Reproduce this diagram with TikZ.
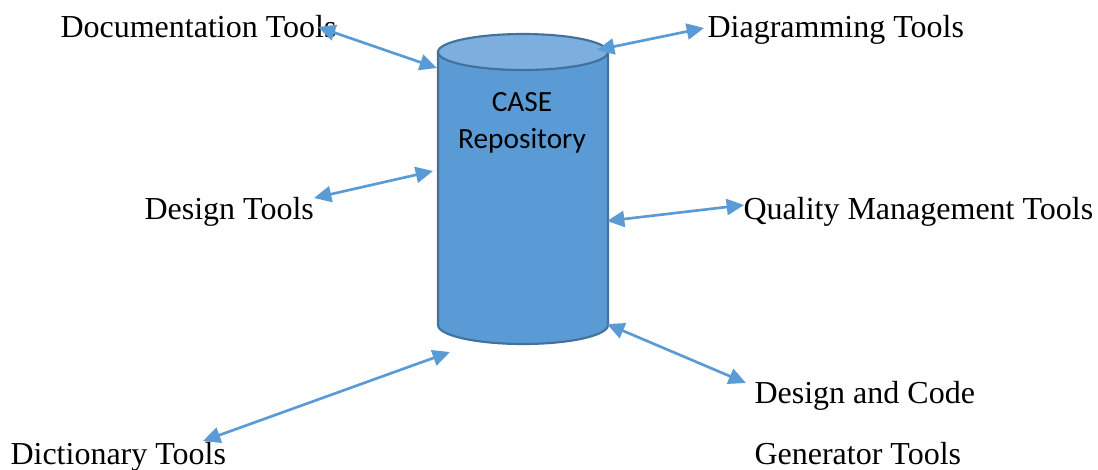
\documentclass[tikz,border=0pt]{standalone}
\usepackage{fontspec}
\setmainfont{Liberation Serif}
\newfontfamily\calibrifont{Carlito}
\usetikzlibrary{arrows.meta}
\definecolor{repofill}{HTML}{5B9BD5}
\definecolor{repotop}{HTML}{7DAFDE}
\definecolor{repoline}{HTML}{41719C}
\begin{document}
\begin{tikzpicture}[x=0.375pt,y=-0.375pt,
    tool/.style={anchor=base west,inner sep=0pt,font=\fontsize{12}{14}\selectfont},
    link/.style={draw=repofill,line width=1pt,{Triangle[length=6.5pt,width=6pt]}-{Triangle[length=6.5pt,width=6pt]}}]
    \useasboundingbox (0,0) rectangle (1098,469);
    % repository cylinder
    \filldraw[fill=repofill,draw=repoline,line width=0.8pt]
        (438,52) -- (438,325) arc[start angle=180,end angle=0,x radius=85,y radius=19] -- (608,52) -- cycle;
    \filldraw[fill=repotop,draw=repoline,line width=0.8pt] (523,52) ellipse[x radius=85,y radius=18];
    \node[inner sep=0pt,align=center,font=\calibrifont\fontsize{11}{13.8}\selectfont] (repo) at (522,123) {CASE\\Repository};
    % tools
    \node[tool] (doc) at (60,37) {Documentation Tools};
    \node[tool] (diag) at (707,37) {Diagramming Tools};
    \node[tool] (design) at (144,219) {Design Tools};
    \node[tool] (quality) at (743,219) {Quality Management Tools};
    \node[tool] (gen1) at (754,403) {Design and Code};
    \node[tool] (gen2) at (754,464) {Generator Tools};
    \node[tool] (dict) at (10,464) {Dictionary Tools};
    % arrow ends
    \coordinate (docA) at (318,27);   \coordinate (docB) at (437,68);
    \coordinate (diagA) at (597,50);  \coordinate (diagB) at (704,28);
    \coordinate (desA) at (314,198);  \coordinate (desB) at (433,171);
    \coordinate (quaA) at (607,221);  \coordinate (quaB) at (744,205);
    \coordinate (dicA) at (203,441);  \coordinate (dicB) at (450,352);
    \coordinate (genA) at (607,324);  \coordinate (genB) at (746,383);
    \draw[link] (docA) -- (docB);
    \draw[link] (diagA) -- (diagB);
    \draw[link] (desA) -- (desB);
    \draw[link] (quaA) -- (quaB);
    \draw[link] (dicA) -- (dicB);
    \draw[link] (genA) -- (genB);
\end{tikzpicture}
\end{document}
